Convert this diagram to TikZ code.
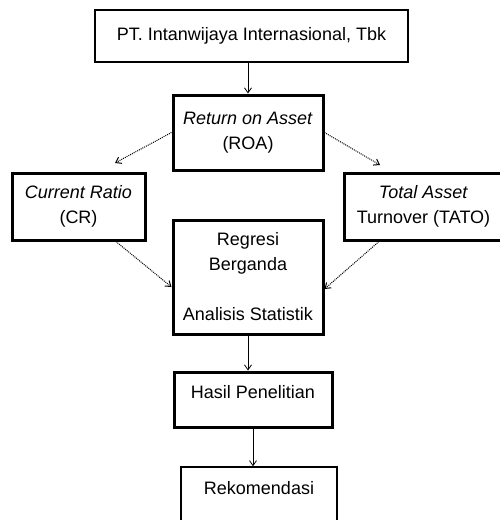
\documentclass[tikz,border=0pt]{standalone}
\usepackage{fontspec}
\setmainfont{Liberation Sans}
\usetikzlibrary{arrows.meta, calc}

\begin{document}
\begin{tikzpicture}[x=1pt, y=-1pt, >={Straight Barb[length=5pt,width=7pt]},
  font=\fontsize{18}{25}\selectfont,
  box/.style={draw, line width=1.4pt, align=center, inner sep=0pt},
  boldbox/.style={box, line width=3pt},
  link/.style={->, densely dotted, line width=1pt}]
  \useasboundingbox (0,0) rectangle (500,520);
  \node[box, minimum width=313pt, minimum height=52pt] (pt) at (251.5,36) {PT. Intanwijaya Internasional, Tbk};
  \node[boldbox, minimum width=150pt, minimum height=75pt] (roa) at (248,132.5) {\textit{Return on Asset}\\(ROA)};
  \node[boldbox, minimum width=133pt, minimum height=67pt] (cr) at (78.5,206.5) {\textit{Current Ratio}\\(CR)};
  \node[boldbox, minimum width=159pt, minimum height=67pt] (tato) at (423.5,206.5) {\textit{Total Asset}\\Turnover (TATO)};
  \node[boldbox, minimum width=150pt, minimum height=114pt] (reg) at (248,277) {Regresi\\Berganda\\[25pt]Analisis Statistik};
  \node[boldbox, minimum width=158pt, minimum height=55pt, text depth=15pt] (hasil) at (253,399.5) {Hasil Penelitian};
  \node[box, minimum width=156pt, minimum height=62pt, text depth=21pt] (rek) at (259,498) {Rekomendasi};
  \coordinate (crin) at (115,163);
  \coordinate (tatoin) at (380,165);
  \draw[->, thick] (roa.north |- pt.south) -- (roa.north);
  \draw[link] (roa.west) -- (crin);
  \draw[link] (roa.east) -- (tatoin);
  \draw[link] ($(cr.south)!0.55!(cr.south east)$) -- ([yshift=-10pt]reg.west);
  \draw[link] ($(tato.south)!0.55!(tato.south west)$) -- ([yshift=-12pt]reg.east);
  \draw[->, thick] (reg.south) -- (reg.south |- hasil.north);
  \draw[->, thick] (hasil.south) -- (hasil.south |- rek.north);
\end{tikzpicture}
\end{document}
